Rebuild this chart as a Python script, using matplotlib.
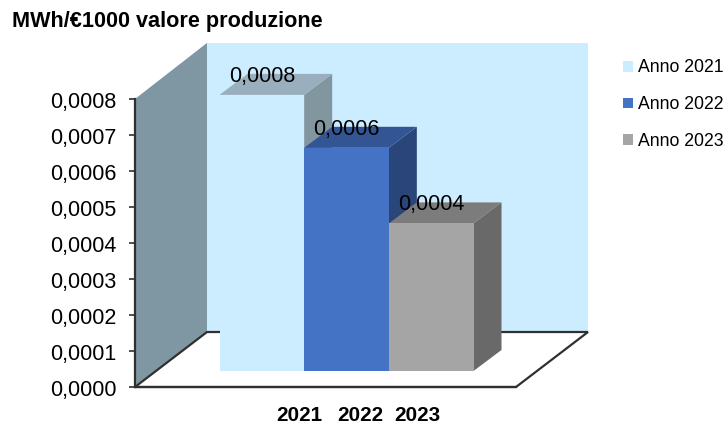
import matplotlib
matplotlib.use("Agg")
import matplotlib.pyplot as plt
from matplotlib.patches import Polygon, Patch
from matplotlib.transforms import Affine2D

plt.rcParams['font.family'] = ['Liberation Sans', 'DejaVu Sans']

years = ["2021", "2022", "2023"]
series_labels = ["Anno 2021", "Anno 2022", "Anno 2023"]
values = [0.000767, 0.00062, 0.00041]
value_labels = ["0,0008", "0,0006", "0,0004"]
y_ticks = [0.0, 0.0001, 0.0002, 0.0003, 0.0004, 0.0005, 0.0006, 0.0007, 0.0008]
y_tick_labels = ["0,0000", "0,0001", "0,0002", "0,0003", "0,0004", "0,0005", "0,0006", "0,0007", "0,0008"]
title = "MWh/€1000 valore produzione"

front_colors = ["#CCECFF", "#4472C4", "#A5A5A5"]
top_colors = ["#9AAFBD", "#345594", "#7C7C7C"]
side_colors = ["#82969F", "#2A4579", "#696969"]
wall_color = "#CCECFF"
side_wall_color = "#7F96A3"
line_color = "#303030"

W, H = 727, 425
fig = plt.figure(figsize=(W / 100, H / 100), dpi=100)
ax = fig.add_axes([135 / W, 1 - 387 / H, 381 / W, 288 / H])
xmin, xmax = -1.25, 3.25
ymin, ymax = 0.0, 0.0008
ax.set_xlim(xmin, xmax)
ax.set_ylim(ymin, ymax)
ax.patch.set_visible(False)


def at_depth(dx, dy):
    return ax.transData + Affine2D().translate(dx, dy)


def oblique(pts, near, far):
    """Polygon in data coords: each point flagged as near/far depth."""
    tr = ax.transData
    out = []
    for x, y, back in pts:
        px, py = tr.transform((x, y))
        d = far if back else near
        out.append((px + d[0], py + d[1]))
    return out


def add_poly(pts, near, far, color, z, **kw):
    ax.add_patch(Polygon(oblique(pts, near, far), closed=True, transform=None,
                         facecolor=color, edgecolor=kw.pop("edgecolor", "none"),
                         zorder=z, clip_on=False, **kw))


origin = (0, 0)
wall_depth = (72, 55)
wall_top = 0.000803

# back wall
add_poly([(xmin, 0, 1), (xmax, 0, 1), (xmax, wall_top, 1), (xmin, wall_top, 1)],
         origin, wall_depth, wall_color, 1)
# left wall
add_poly([(xmin, 0, 0), (xmin, 0, 1), (xmin, wall_top, 1), (xmin, ymax, 0)],
         origin, wall_depth, side_wall_color, 1)
# floor
add_poly([(xmin, 0, 0), (xmax, 0, 0), (xmax, 0, 1), (xmin, 0, 1)],
         origin, wall_depth, "white", 2, edgecolor=line_color, linewidth=1.6)

# bars
near = (21, 16)
far = (49, 37)
w = 1.0
for i, v in enumerate(values):
    l, r = i - w / 2, i + w / 2
    z = 3 + i
    add_poly([(r, 0, 0), (r, 0, 1), (r, v, 1), (r, v, 0)], near, far, side_colors[i], z)
    add_poly([(l, v, 0), (r, v, 0), (r, v, 1), (l, v, 1)], near, far, top_colors[i], z)
    ax.bar(i, v, width=w, color=front_colors[i], transform=at_depth(*near),
           zorder=z + 0.5, clip_on=False)
    ax.annotate(value_labels[i], xy=(i, v), xycoords=at_depth(*near),
                xytext=(0, 18.5 * 0.72), textcoords="offset points", ha="center",
                va="center", fontsize=15.5, color="black", zorder=10)

# axes
for s in ("top", "right"):
    ax.spines[s].set_visible(False)
ax.spines["left"].set_color(line_color)
ax.spines["left"].set_linewidth(1.6)
ax.spines["left"].set_zorder(6)
ax.spines["bottom"].set_color(line_color)
ax.spines["bottom"].set_linewidth(1.6)
ax.spines["bottom"].set_zorder(6)
ax.set_yticks(y_ticks)
ax.set_yticklabels(y_tick_labels, fontsize=15.5, color="black")
ax.tick_params(axis="y", length=4, width=1.2, color=line_color, pad=9.5)
for lab in ax.get_yticklabels():
    lab.set_transform(lab.get_transform() + Affine2D().translate(0, -1))
ax.set_xticks([0.687, 1.41, 2.09])
ax.set_xticklabels(years, fontsize=14.9, fontweight="bold", color="black")
ax.tick_params(axis="x", length=0, pad=14)

fig.text(12 / W, 1 - 22 / H, title, fontsize=15.6, fontweight="bold", color="black",
         ha="left", va="center")

handles = [Patch(facecolor=c, edgecolor="none") for c in front_colors]
fig.legend(handles, series_labels, loc="upper left",
           bbox_to_anchor=(623 / W, 1 - 59.5 / H), borderaxespad=0, borderpad=0,
           frameon=False, fontsize=12.7, handlelength=0.567, handleheight=0.567,
           handletextpad=0.3, labelspacing=1.12)

fig.savefig("out.png", dpi=100)
